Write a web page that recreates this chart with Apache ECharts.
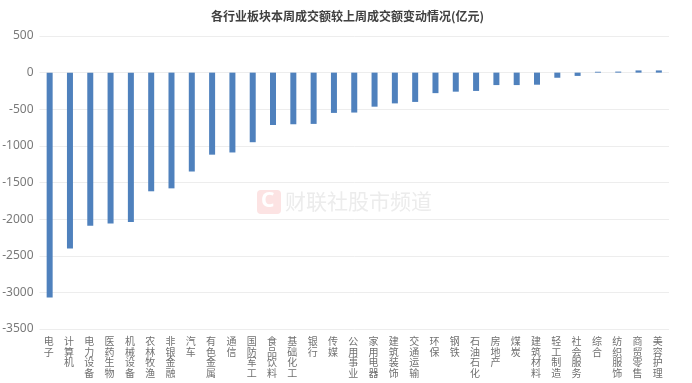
<!DOCTYPE html>
<html><head><meta charset="utf-8">
<style>html,body{margin:0;padding:0;background:#fff}#c{width:692px;height:383px;filter:blur(0.2px)}</style>
<script src="https://cdn.jsdelivr.net/npm/echarts@6/dist/echarts.min.js"></script>
</head><body><div id="c"></div>
<script>
const titleText='各行业板块本周成交额较上周成交额变动情况(亿元)';
const categories=['电子','计算机','电力设备','医药生物','机械设备','农林牧渔','非银金融','汽车','有色金属','通信','国防军工','食品饮料','基础化工','银行','传媒','公用事业','家用电器','建筑装饰','交通运输','环保','钢铁','石油石化','房地产','煤炭','建筑材料','轻工制造','社会服务','综合','纺织服饰','商贸零售','美容护理'];
const values=[-3070,-2400,-2090,-2060,-2040,-1620,-1580,-1350,-1120,-1090,-950,-715,-705,-700,-550,-545,-465,-420,-400,-280,-260,-250,-170,-170,-165,-70,-45,12,14,30,30];
const font='"Noto Sans CJK SC"';
const chart=echarts.init(document.getElementById('c'),null,{renderer:'canvas'});
chart.setOption({
 animation:false,
 title:{text:titleText,left:342.5,top:5,textAlign:'center',textStyle:{fontFamily:font,fontSize:12,fontWeight:'bold',color:'#404040'}},
 grid:{left:39.5,right:23,top:36,bottom:54,outerBoundsMode:'none'},
 xAxis:{type:'category',data:categories,axisTick:{show:false},
  axisLine:{show:false},
  axisLabel:{interval:0,margin:7,fontFamily:font,fontSize:10,lineHeight:10.5,padding:[0,2,0,0],color:'#707070',verticalAlign:'top',hideOverlap:false,formatter:v=>v.split('').join('\n')}},
 yAxis:{type:'value',min:-3500,max:500,interval:500,
  axisLine:{show:false},axisTick:{show:false},
  axisLabel:{margin:6,fontFamily:'"Noto Sans"',fontSize:12,color:'#7a7a7a',formatter:v=>String(v)},
  splitLine:{lineStyle:{color:'#ededed',width:1}}},
 series:[{type:'bar',data:values,barWidth:6,itemStyle:{color:'#4f81bd'}}],
 graphic:[
  {type:'rect',left:257,top:190,shape:{width:24,height:24,r:4},style:{fill:'#fce3e3'},z:0},
  {type:'text',left:261,top:191,style:{text:'C',fill:'#ffffff',fontSize:21,fontWeight:'bold',fontFamily:'"Noto Sans"'},z:0},
  {type:'text',left:285,top:191,style:{text:'财联社股市频道',fill:'#ececec',fontSize:21,fontFamily:font},z:0}
 ]
});
</script></body></html>
